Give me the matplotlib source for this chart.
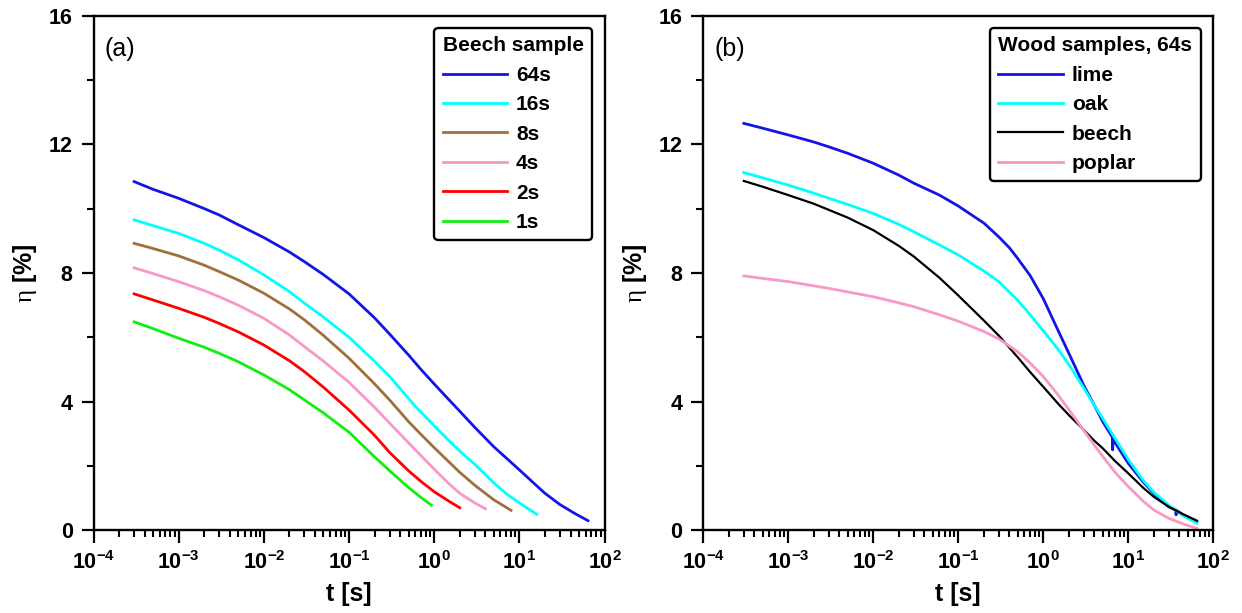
import numpy as np
import matplotlib.pyplot as plt
from matplotlib.ticker import LogLocator, NullFormatter

plt.rcParams['font.family'] = ['Liberation Sans', 'DejaVu Sans']
plt.rcParams['mathtext.fontset'] = 'custom'
plt.rcParams['mathtext.rm'] = 'Liberation Serif'
plt.rcParams['mathtext.bf'] = 'Liberation Sans:bold'
plt.rcParams['mathtext.it'] = 'Liberation Serif:italic'

# ---- panel (a): beech sample, different charging times ----
t_64s = [3e-4, 5e-4, 1e-3, 2e-3, 3e-3, 5e-3, 1e-2, 2e-2, 3e-2, 5e-2, 0.1, 0.2, 0.3, 0.5, 0.7,
         1, 1.5, 2, 3, 5, 7, 10, 15, 20, 30, 45, 64]
eta_64s = [10.84, 10.60, 10.32, 10.00, 9.80, 9.50, 9.10, 8.65, 8.35, 7.95, 7.35, 6.60, 6.10, 5.45, 5.00,
           4.55, 4.05, 3.70, 3.20, 2.60, 2.25, 1.88, 1.45, 1.15, 0.80, 0.52, 0.30]
t_16s = [3e-4, 5e-4, 1e-3, 2e-3, 3e-3, 5e-3, 1e-2, 2e-2, 3e-2, 5e-2, 0.1, 0.2, 0.3, 0.5, 0.6, 0.7,
         1, 1.5, 2, 3, 5, 7, 10, 16]
eta_16s = [9.65, 9.47, 9.23, 8.92, 8.71, 8.41, 7.94, 7.42, 7.06, 6.63, 6.0, 5.25, 4.78, 4.10, 3.85, 3.67,
           3.25, 2.78, 2.46, 2.05, 1.48, 1.14, 0.85, 0.50]
t_8s = [3e-4, 5e-4, 1e-3, 2e-3, 3e-3, 5e-3, 1e-2, 2e-2, 3e-2, 5e-2, 0.1, 0.2, 0.3, 0.5, 0.7,
        1, 1.5, 2, 3, 5, 8]
eta_8s = [8.92, 8.76, 8.53, 8.24, 8.04, 7.78, 7.37, 6.88, 6.54, 6.06, 5.35, 4.55, 4.05, 3.38, 2.98,
          2.57, 2.12, 1.80, 1.40, 0.95, 0.62]
t_4s = [3e-4, 5e-4, 1e-3, 2e-3, 3e-3, 5e-3, 1e-2, 2e-2, 3e-2, 5e-2, 0.1, 0.2, 0.3, 0.5, 0.7,
        1, 1.5, 2, 3, 4]
eta_4s = [8.16, 7.98, 7.73, 7.45, 7.26, 7.00, 6.59, 6.07, 5.71, 5.26, 4.6, 3.82, 3.33, 2.72, 2.32,
          1.90, 1.44, 1.15, 0.85, 0.67]
t_2s = [3e-4, 5e-4, 1e-3, 2e-3, 3e-3, 5e-3, 1e-2, 2e-2, 3e-2, 5e-2, 0.1, 0.2, 0.3, 0.5, 0.7,
        1, 1.5, 2]
eta_2s = [7.35, 7.16, 6.90, 6.62, 6.43, 6.17, 5.76, 5.27, 4.93, 4.45, 3.74, 2.95, 2.42, 1.85, 1.52,
          1.20, 0.90, 0.70]
t_1s = [3e-4, 5e-4, 1e-3, 2e-3, 3e-3, 5e-3, 1e-2, 2e-2, 3e-2, 5e-2, 0.1, 0.2, 0.3, 0.5, 0.7, 0.93]
eta_1s = [6.48, 6.27, 5.97, 5.69, 5.50, 5.24, 4.83, 4.37, 4.05, 3.65, 3.05, 2.28, 1.85, 1.33, 1.02, 0.78]

labels_a = ['64s', '16s', '8s', '4s', '2s', '1s']
colors_a = ['#1414e6', '#00ffff', '#a0703c', '#f898c8', '#ff0000', '#10f010']

# ---- panel (b): wood samples, 64s ----
t_b = [3e-4, 5e-4, 1e-3, 2e-3, 3e-3, 5e-3, 1e-2, 2e-2, 3e-2, 6e-2, 0.1, 0.2, 0.3, 0.5, 0.7,
       1, 1.5, 2, 3, 4, 5, 7, 10, 15, 20, 30, 45, 64]
t_lime = [3e-4, 5e-4, 1e-3, 2e-3, 3e-3, 5e-3, 1e-2, 2e-2, 3e-2, 6e-2, 0.1, 0.2, 0.3, 0.4, 0.5, 0.7,
          1, 1.5, 2, 3, 4, 5, 6.5, 6.55, 6.6, 7, 10, 15, 20, 30, 36, 36.5, 37, 45, 64]
eta_lime = [12.65, 12.50, 12.29, 12.07, 11.92, 11.72, 11.41, 11.04, 10.79, 10.42, 10.08, 9.55, 9.12, 8.78, 8.45, 7.92,
            7.20, 6.20, 5.50, 4.50, 3.88, 3.38, 2.89, 2.50, 2.86, 2.72, 2.08, 1.50, 1.15, 0.73,
            0.64, 0.48, 0.62, 0.45, 0.27]
eta_oak = [11.12, 10.96, 10.73, 10.48, 10.32, 10.13, 9.85, 9.51, 9.28, 8.87, 8.56, 8.06, 7.73, 7.15, 6.70,
           6.20, 5.62, 5.15, 4.42, 3.88, 3.48, 2.85, 2.20, 1.55, 1.18, 0.78, 0.45, 0.22]
eta_beech = [10.86, 10.68, 10.42, 10.15, 9.96, 9.72, 9.33, 8.84, 8.51, 7.85, 7.30, 6.52, 6.05, 5.38, 4.92,
             4.46, 3.93, 3.58, 3.12, 2.78, 2.55, 2.15, 1.77, 1.32, 1.04, 0.73, 0.49, 0.30]
eta_poplar = [7.91, 7.83, 7.73, 7.60, 7.52, 7.41, 7.26, 7.07, 6.95, 6.70, 6.50, 6.18, 5.95, 5.55, 5.20,
              4.78, 4.20, 3.75, 3.10, 2.64, 2.30, 1.80, 1.36, 0.90, 0.63, 0.37, 0.19, 0.06]

fig = plt.figure(figsize=(12.42, 6.13), dpi=100)
ax1 = fig.add_axes([93.5 / 1242, 82.7 / 613, 511 / 1242, 514.7 / 613])
ax2 = fig.add_axes([703.3 / 1242, 82.7 / 613, 510 / 1242, 514.7 / 613])

series_a = [(t_64s, eta_64s), (t_16s, eta_16s), (t_8s, eta_8s),
            (t_4s, eta_4s), (t_2s, eta_2s), (t_1s, eta_1s)]
for (t, e), lab, c in zip(series_a, labels_a, colors_a):
    ax1.plot(t, e, color=c, lw=2.0, label=lab)

ax2.plot(t_lime, eta_lime, color='#1414e6', lw=2.0, label='lime')
ax2.plot(t_b, eta_oak, color='#00ffff', lw=2.0, label='oak')
ax2.plot(t_b, eta_beech, color='black', lw=1.6, label='beech')
ax2.plot(t_b, eta_poplar, color='#f898c8', lw=2.0, label='poplar')

xt = [1e-4, 1e-3, 1e-2, 1e-1, 1, 10, 100]
xtl = [r'$\mathbf{10^{%d}}$' % p for p in range(-4, 3)]
for ax, tag, title in [(ax1, '(a)', 'Beech sample'), (ax2, '(b)', 'Wood samples, 64s')]:
    ax.set_xscale('log')
    ax.set_xlim(1e-4, 100)
    ax.set_ylim(0, 16)
    ax.set_xticks(xt)
    ax.set_xticklabels(xtl)
    ax.set_yticks([0, 4, 8, 12, 16])
    ax.set_yticks([2, 6, 10, 14], minor=True)
    ax.xaxis.set_minor_locator(LogLocator(base=10, subs=np.arange(2, 10)))
    ax.xaxis.set_minor_formatter(NullFormatter())
    ax.tick_params(which='major', direction='out', length=9, width=1.6, labelsize=15.5, pad=6)
    ax.tick_params(which='minor', direction='out', length=5, width=1.5)
    for lbl in ax.get_yticklabels():
        lbl.set_fontweight('bold')
    for s in ax.spines.values():
        s.set_linewidth(1.7)
    ax.set_xlabel('t [s]', fontsize=18, fontweight='bold', labelpad=6)
    ax.set_ylabel(r'$\mathrm{\eta}$ [%]', fontsize=18, fontweight='bold', labelpad=7)
    ax.text(0.022, 0.935, tag, transform=ax.transAxes, fontsize=18, va='center')
    leg = ax.legend(loc='upper right', title=title, fontsize=15, handlelength=3.1,
                    handletextpad=0.42, labelspacing=0.5, borderaxespad=0.6,
                    fancybox=True, framealpha=1, edgecolor='black',
                    title_fontproperties={'weight': 'bold', 'size': 15},
                    alignment='left', borderpad=0.4)
    leg.get_frame().set_linewidth(1.7)
    for txt in leg.get_texts():
        txt.set_fontweight('bold')

fig.savefig('out.png', dpi=100)
